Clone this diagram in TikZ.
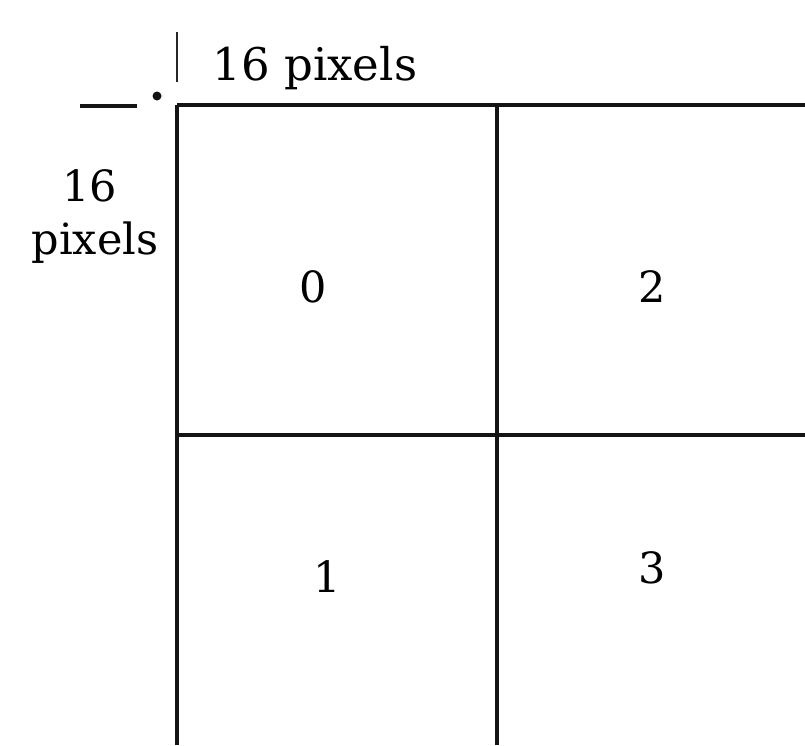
\documentclass[tikz,border=0pt]{standalone}
\usepackage{fontspec}
\setmainfont{DejaVu Serif}
\begin{document}
\begin{tikzpicture}[x=1pt,y=-1pt,
  grid/.style={line width=4.2pt,black!92},
  lbl/.style={font=\fontsize{43}{48}\selectfont,inner sep=0pt,text=black}]
\useasboundingbox (0,0) rectangle (805,745);
\coordinate (tl) at (177,105);
\coordinate (tm) at (497,105);
\coordinate (tr) at (805,105);
\coordinate (ml) at (177,435);
\coordinate (mr) at (805,435);
\coordinate (bl) at (177,745);
\coordinate (bm) at (497,745);
\draw[grid] (tl) -- (tr);
\draw[grid] (ml) -- (mr);
\draw[grid] (tl) -- (bl);
\draw[grid] (tm) -- (bm);
% marks at origin
\coordinate (d1) at (80,106);
\coordinate (d2) at (137,106);
\draw[line width=4.5pt,black!92] (d1) -- (d2);
\fill[black!92] (157,96) circle (4.5pt);
\coordinate (t1) at (177,32);
\coordinate (t2) at (177,82);
\draw[line width=2.2pt,black!85] (t1) -- (t2);
% labels
\node[lbl,font=\fontsize{45}{50}\selectfont] (top) at (315,68) {16 pixels};
\node[lbl] (l16) at (90,186) {16};
\node[lbl] (lpx) at (95,243) {pixels};
\node[lbl] (c0) at (313,287) {0};
\node[lbl] (c2) at (652,287) {2};
\node[lbl] (c1) at (327,577) {1};
\node[lbl] (c3) at (652,568) {3};
\end{tikzpicture}
\end{document}
